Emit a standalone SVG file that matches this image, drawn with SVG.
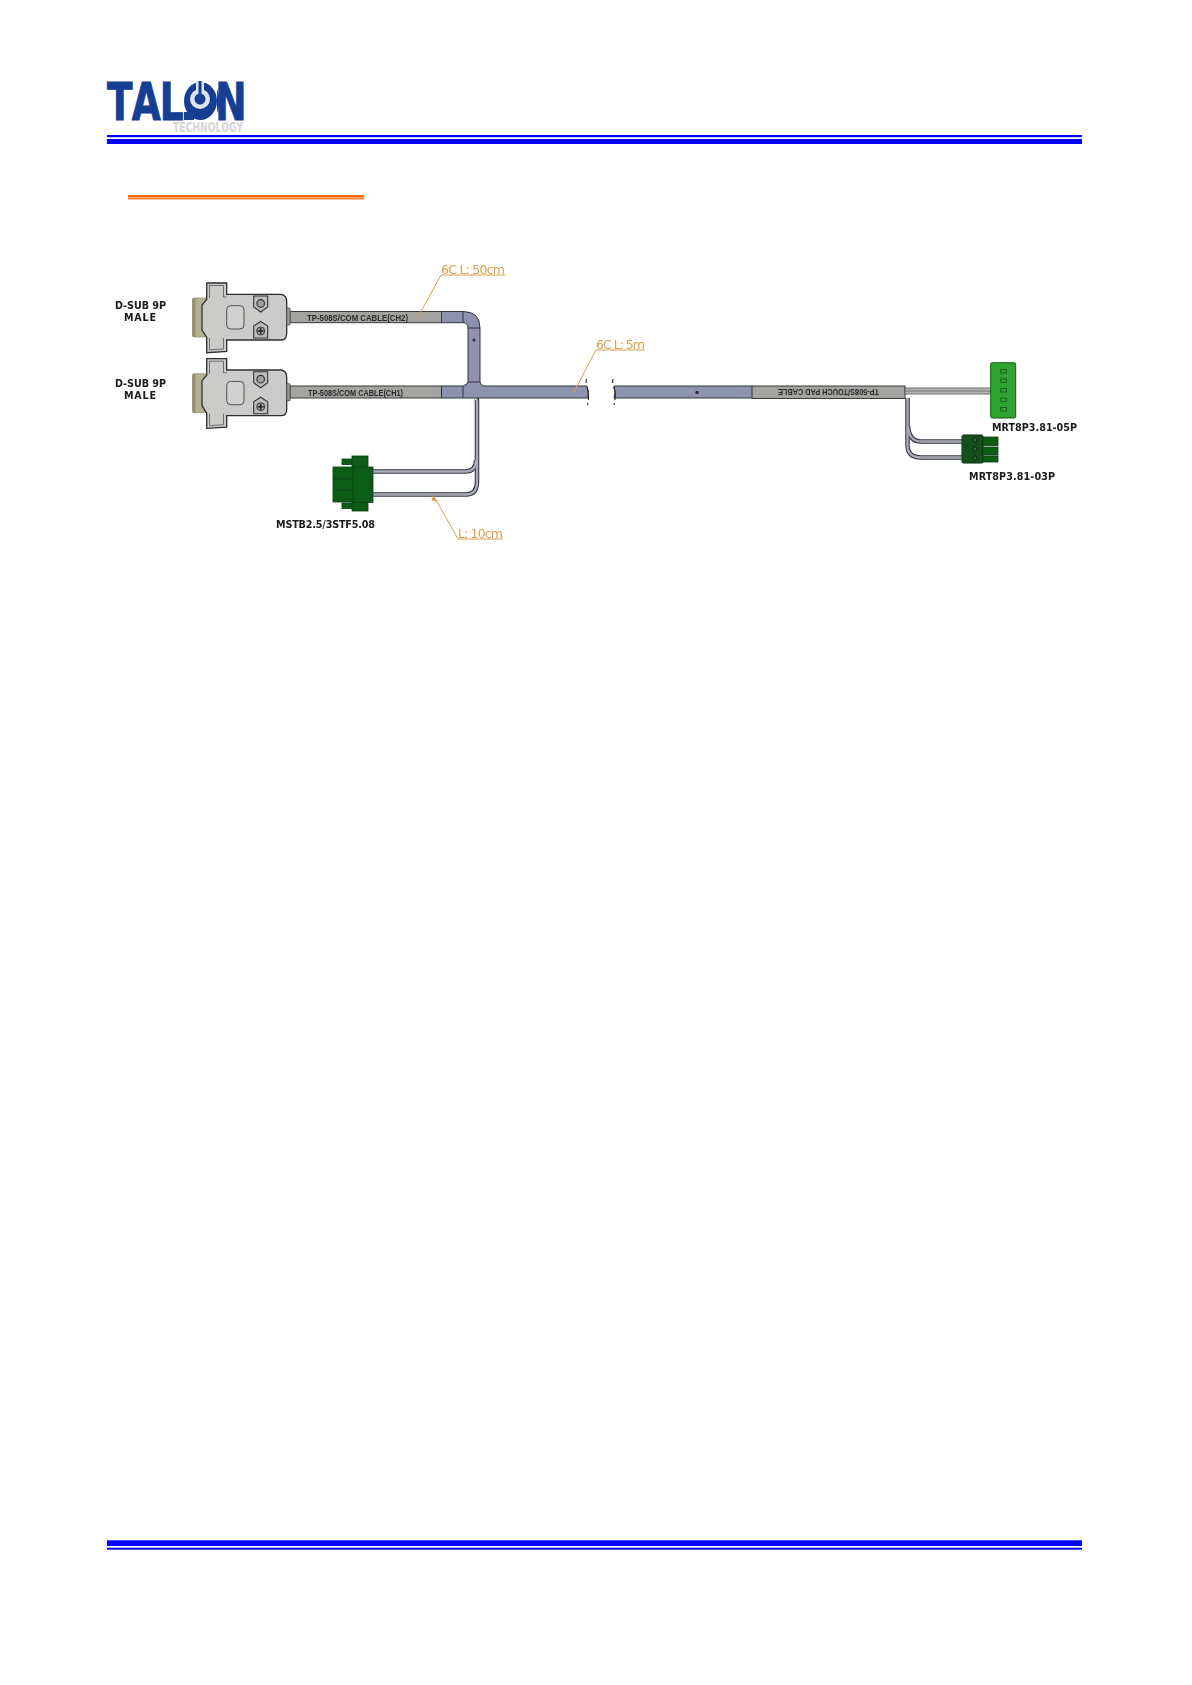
<svg xmlns="http://www.w3.org/2000/svg" xmlns:xlink="http://www.w3.org/1999/xlink" width="1192" height="1685" viewBox="0 0 1192 1685">
<style>
.lbl{font-family:"DejaVu Sans","Liberation Sans",sans-serif;font-weight:bold;font-size:9.6px;fill:#1a1a1a}
.cab{font-family:"Liberation Sans",Arial,sans-serif;font-weight:bold;font-size:9.5px;fill:#2a2a2a}
.dim{font-family:"DejaVu Sans","Liberation Sans",sans-serif;font-size:12.5px;fill:#d9a04e}
.lead{stroke:#d9a04e;stroke-width:1;fill:none}
.blue{fill:#0000ff}
.or{fill:#ff6600}
.edge{stroke:#30343c;stroke-width:1}
.cg{fill:#a3a3a0;stroke:#3a3a3a;stroke-width:1}
.cb{fill:#8e92ad;stroke:#33363f;stroke-width:1}
.wire{fill:none;stroke:#33363f;stroke-width:4.5}
.wire2{fill:none;stroke:#a9abb8;stroke-width:2.4}
.dg{fill:#0d5c16;stroke:#0b3d10;stroke-width:.8}
.line{fill:none;stroke:#0b3d10;stroke-width:.8}
.brk{fill:none;stroke:#222;stroke-width:1.100}
</style>
<defs>
<filter id="soft" x="-2%" y="-2%" width="104%" height="104%"><feGaussianBlur stdDeviation="0.35"/></filter>
<g id="dsub">
<rect x="192.500" y="298" width="14" height="39" rx="2" fill="#b5b294" stroke="#8d8a70" stroke-width=".7"/>
<rect x="192.500" y="298" width="3" height="39" fill="#96936f"/>
<path d="M206.700 283H226.700V294.300H281Q286.700 295 286.700 301.700V333.300Q286.700 340 281 340H226.700V351.500L206.700 352.700V337.500L202 330V305L206.700 299.500Z" fill="#cbcbca" stroke="#2e2e2e" stroke-width="1.300"/>
<path d="M209.500 285.500H223.500V297H226.700M209.500 285.500V298M209.500 338V350M209.500 350L223.500 349V338" fill="none" stroke="#555" stroke-width=".8"/>
<rect x="226.700" y="305.700" width="17.300" height="23.300" rx="4" fill="#d0d0ce" stroke="#444" stroke-width=".9"/>
<path d="M286.700 308H290V325H286.700Z" fill="#9a9a98" stroke="#444" stroke-width=".7"/>
<path d="M253.700 296H267.700V307L260.700 312L253.700 307Z" fill="#bdbdbb" stroke="#333" stroke-width="1.100"/>
<circle cx="260.700" cy="303.500" r="3.800" fill="#a0a0a0" stroke="#333" stroke-width="1.200"/>
<path d="M253.700 326L260.700 321.500L267.700 326V338H253.700Z" fill="#bdbdbb" stroke="#333" stroke-width="1.100"/>
<circle cx="260.700" cy="331" r="4" fill="#aaa" stroke="#333" stroke-width="1"/>
<path d="M260.700 328V334M257.700 331H263.700" stroke="#222" stroke-width="1.600"/>
</g>
</defs>
<rect width="1192" height="1685" fill="#fff"/>

<g id="header">
<text transform="translate(0 120) scale(.72 1)" y="0" x="148.600 183 222 262 299" font-family="'DejaVu Sans',sans-serif" font-weight="bold" font-size="52" fill="#163e92" stroke="#163e92" stroke-width="1">TALON</text>
<rect x="184" y="80" width="33" height="41" fill="#fff"/>
<rect x="184" y="112" width="10" height="8" fill="#163e92"/>
<path d="M200.500 82A17 19 0 0 1 217 101A17 19 0 0 1 200.500 120A17 19 0 0 1 184 101A17 19 0 0 1 200.500 82Z" fill="#163e92"/>
<circle cx="200" cy="99" r="10" fill="#dfe5f0"/>
<circle cx="200" cy="99" r="5.500" fill="#163e92"/>
<rect x="196" y="81" width="8" height="13" fill="#dfe5f0"/>
<rect x="198.500" y="81" width="3" height="13" fill="#163e92"/>
<text x="173" y="132" font-family="'DejaVu Sans',sans-serif" font-weight="bold" font-size="14" fill="#d6d6d6" textLength="70" lengthAdjust="spacingAndGlyphs">TECHNOLOGY</text>
<rect class="blue" x="107" y="135" width="975" height="2.200"/>
<rect class="blue" x="107" y="139" width="975" height="5"/>
<rect class="or" x="128" y="195" width="236" height="2.600"/>
<rect class="or" x="128" y="198.200" width="236" height="1.200"/>
</g>

<g id="footer">
<rect class="blue" x="107" y="1540.300" width="975" height="5.700"/>
<rect class="blue" x="107" y="1547.700" width="975" height="2"/>
</g>

<g id="drawing" filter="url(#soft)">
<g id="connectors">
<path class="wire" d="M476.700 398Q477 398 477 404V482Q477 494.500 466 494.500H373"/>
<path class="wire" d="M476 460Q476 471.500 465 471.500H373"/>
<path class="wire2" d="M476.700 399Q477 399 477 404V482Q477 494.500 466 494.500H373"/>
<path class="wire2" d="M476 460Q476 471.500 465 471.500H373"/>
<path class="cb" d="M441.500 311.500H463Q480 311.500 480 328V386H468V328Q468 322.700 463 322.700H441.500Z"/>
<path d="M468 328H480M441.500 311.500V322.700M463 311.500V322.700" class="edge" fill="none"/>
<circle cx="474" cy="340" r="1.500" fill="#2b2b3a"/>
<rect class="cg" x="290" y="311.500" width="151.500" height="11.200"/>
<rect class="cg" x="290" y="386" width="151.500" height="12"/>
<path class="cb" d="M441.500 386H463Q468 384 468 382H480Q480 385 484 386H587Q589 392 588 398H441.500Z"/>
<path d="M463 386V398" class="edge"/>
<path class="brk" d="M586.500 379L586 383M587 387Q589 392 588.500 399L588.500 400M588 403L587.500 405"/>
<path class="cb" d="M614 386H753V398H614Q616 392 614 386Z"/>
<path class="brk" d="M613 379L612.500 383M613.500 387Q616 392 615 399L615 400M614.500 403L614 405"/>
<circle cx="697" cy="392.500" r="1.700" fill="#2b2b3a"/>
<rect class="cg" x="752" y="386" width="153" height="12.500"/>
<rect x="905" y="388" width="87" height="6" fill="#b4b4b4" stroke="#555" stroke-width=".8"/>
<path d="M905 391H992" stroke="#666" stroke-width=".8"/>
<path class="wire" d="M907.500 398V445Q907.500 457.500 921 457.500H963"/>
<path class="wire" d="M908 426Q909 441.500 921 441.500H963"/>
<path class="wire2" d="M907.500 398V445Q907.500 457.500 921 457.500H963" stroke-width="1.800"/>
<path class="wire2" d="M908 426Q909 441.500 921 441.500H963" stroke-width="1.800"/>
<path class="lead" d="M505 275H441L418 317"/>
<path class="lead" d="M645 350H596L574 392"/>
<path class="lead" d="M503 539H458L435 498"/>
<path d="M433.500 495L436.500 502L431.500 500Z" fill="#d9a04e"/>
</g>

<g id="cable-labels">
<text class="cab" x="307" y="320.500" textLength="101" lengthAdjust="spacingAndGlyphs">TP-508S/COM CABLE(CH2)</text>
<text class="cab" x="308" y="395.500" textLength="95" lengthAdjust="spacingAndGlyphs">TP-508S/COM CABLE(CH1)</text>
<text class="cab" transform="rotate(180 828.500 392.500)" x="778" y="396" textLength="101" lengthAdjust="spacingAndGlyphs">TP-508S/TOUCH PAD CABLE</text>
<text class="dim" x="441" y="274" textLength="64" lengthAdjust="spacing">6C L: 50cm</text>
<text class="dim" x="596" y="349" textLength="49" lengthAdjust="spacing">6C L: 5m</text>
<text class="dim" x="458" y="538" textLength="45" lengthAdjust="spacing">L: 10cm</text>
</g>

<g id="dsub-ch2">
<use xlink:href="#dsub" href="#dsub"/>
<text class="lbl" x="115" y="309" textLength="51" lengthAdjust="spacing">D-SUB 9P</text>
<text class="lbl" x="124" y="321" textLength="32" lengthAdjust="spacing">MALE</text>
</g>

<g id="dsub-ch1">
<use xlink:href="#dsub" href="#dsub" transform="translate(0 75.700)"/>
<text class="lbl" x="115" y="387" textLength="51" lengthAdjust="spacing">D-SUB 9P</text>
<text class="lbl" x="124" y="399" textLength="32" lengthAdjust="spacing">MALE</text>
</g>

<g id="mstb">
<rect class="dg" x="342" y="459" width="11" height="5.500"/>
<rect class="dg" x="342" y="503" width="11" height="5.500"/>
<rect class="dg" x="352" y="456" width="16" height="55"/>
<rect class="dg" x="333" y="467" width="21" height="35"/>
<path class="line" d="M333 479H353M333 490H353" stroke-width="1.500"/>
<rect class="dg" x="353" y="467" width="20" height="35.500"/>
<text class="lbl" x="276" y="528" textLength="99" lengthAdjust="spacing">MSTB2.5/3STF5.08</text>
</g>

<g id="mrt-05p">
<rect x="990.700" y="362.700" width="25" height="55.300" rx="1.500" fill="#2fa52f" stroke="#1d5a1d" stroke-width="1"/>
<g fill="#2fa52f" stroke="#1a4d1a" stroke-width=".8">
<rect x="1000.800" y="369.500" width="5.600" height="3.500"/>
<rect x="1000.800" y="379" width="5.600" height="3.500"/>
<rect x="1000.800" y="388.500" width="5.600" height="3.500"/>
<rect x="1000.800" y="398" width="5.600" height="3.500"/>
<rect x="1000.800" y="407.500" width="5.600" height="3.500"/>
</g>
<text class="lbl" x="992" y="431" textLength="85" lengthAdjust="spacing">MRT8P3.81-05P</text>
</g>

<g id="mrt-03p">
<rect x="962" y="435" width="21" height="28" rx="1.500" fill="#12501a" stroke="#0a2e0e" stroke-width="1"/>
<rect class="dg" x="983" y="437" width="15" height="8.500"/>
<rect class="dg" x="983" y="447" width="15" height="8"/>
<rect class="dg" x="983" y="456" width="15" height="6"/>
<g fill="#2d6b33" stroke="#041d07" stroke-width=".8">
<circle cx="975" cy="440" r="2"/>
<circle cx="975" cy="449" r="2"/>
<circle cx="975" cy="458" r="2"/>
</g>
<text class="lbl" x="969" y="480" textLength="86" lengthAdjust="spacing">MRT8P3.81-03P</text>
</g>
</g>
</svg>
